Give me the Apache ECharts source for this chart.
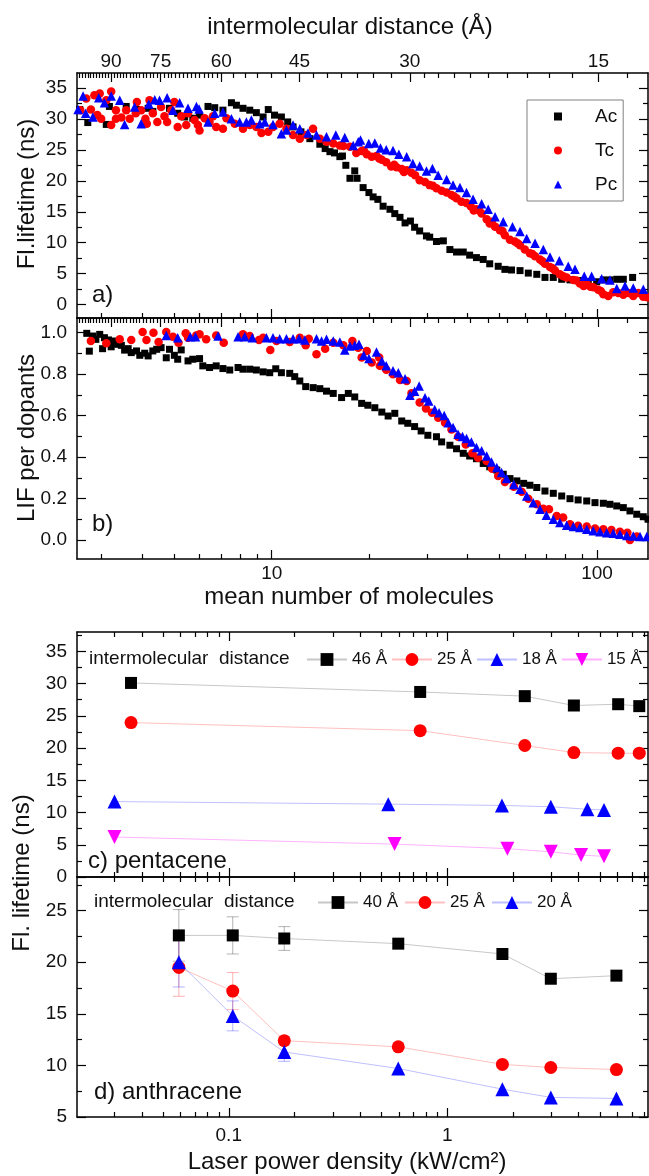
<!DOCTYPE html>
<html>
<head>
<meta charset="utf-8">
<title>Fluorescence lifetime / LIF vs cluster size and laser power</title>
<script src="https://cdn.jsdelivr.net/npm/echarts@6.0.0/dist/echarts.min.js"></script>
<style>
  html, body { margin: 0; padding: 0; background: #fff; }
  #main { width: 649px; height: 1176px; }
</style>
</head>
<body>
<div id="main"></div>
<script>
// ---- panel a) : Fl. lifetime (ns) vs mean number of molecules  [N, ns]
var acLifetime = [[2.57,31.5],[2.72,29.4],[3.10,29.1],[3.17,32.0],[3.57,32.0],[3.84,31.5],[4.17,31.7],[4.31,31.2],[4.85,31.7],[5.14,30.9],[5.40,30.3],[5.72,30.1],[6.00,30.6],[6.37,32.0],[6.68,31.8],[7.08,31.4],[7.52,32.6],[7.79,32.2],[8.16,31.7],[8.56,31.4],[8.97,31.0],[9.41,30.3],[9.76,31.5],[10.2,30.6],[10.71,30.3],[11.2,29.5],[11.63,28.7],[12.3,27.9],[13.1,26.8],[14.06,25.9],[14.6,25.2],[15.1,24.7],[15.6,24.5],[16.2,23.9],[16.5,24.0],[16.9,22.5],[17.4,20.4],[18.0,21.6],[18.3,20.4],[19.1,18.9],[19.9,18.1],[20.5,17.4],[21.2,17.0],[22.0,15.9],[23.1,15.4],[23.9,14.7],[24.8,14.1],[25.7,13.2],[26.7,13.5],[27.5,12.5],[28.5,11.9],[29.9,11.1],[30.6,10.9],[32.1,10.2],[33.7,10.3],[35.3,8.9],[37.0,8.5],[38.8,8.5],[40.6,8.0],[42.6,7.6],[44.7,7.3],[46.8,6.6],[49.7,6.2],[52.1,5.7],[54.6,5.6],[58.0,5.5],[61.5,5.1],[65.3,4.9],[69.2,4.4],[73.4,4.4],[77.9,4.1],[82.6,4.0],[88.6,3.9],[94.0,3.7],[99.8,3.7],[104.6,4.0],[109.6,4.0],[115.0,4.1],[120.5,4.1],[128.7,4.4]];
var tcLifetime = [[2.58,31.4],[2.69,33.3],[2.78,31.5],[2.85,33.8],[2.91,30.6],[2.96,34.1],[2.99,30.0],[3.10,33.0],[3.21,34.4],[3.21,29.0],[3.32,31.4],[3.32,30.0],[3.45,30.2],[3.57,31.4],[3.66,30.0],[3.82,30.9],[3.85,32.7],[3.97,31.4],[4.09,30.0],[4.13,29.2],[4.21,33.0],[4.31,30.9],[4.45,29.5],[4.57,31.9],[4.68,30.4],[4.77,29.5],[4.91,31.4],[5.02,32.7],[5.14,28.7],[5.27,30.4],[5.46,29.0],[5.53,30.9],[5.79,29.8],[5.93,29.0],[6.00,28.1],[6.22,30.1],[6.44,29.5],[6.60,30.4],[6.75,28.7],[7.08,28.4],[7.26,30.1],[7.70,29.2],[8.16,28.4],[8.56,29.0],[8.97,28.7],[9.30,27.7],[9.76,27.9],[10.09,28.7],[10.58,29.2],[11.1,28.4],[11.63,27.4],[12.2,26.8],[12.8,27.4],[13.4,28.4],[14.06,26.8],[14.74,26.3],[15.46,26.0],[16.2,25.7],[16.6,25.6],[17.4,25.5],[18.2,24.5],[18.9,24.8],[19.2,24.9],[19.6,24.3],[20.3,23.9],[21.0,24.0],[21.4,23.6],[21.8,23.4],[22.5,23.0],[23.3,22.3],[23.8,22.6],[24.2,22.2],[25.1,21.9],[25.5,21.4],[26.0,21.7],[26.9,21.3],[27.6,20.9],[28.5,20.1],[29.6,19.8],[30.6,19.3],[31.3,19.2],[32.1,18.8],[33.3,18.4],[34.5,18.1],[35.7,17.7],[36.3,17.5],[37.0,17.2],[38.3,16.6],[39.7,16.4],[40.9,15.9],[41.8,15.2],[42.6,15.4],[43.4,15.2],[44.2,14.7],[45.8,13.8],[46.8,13.1],[47.5,13.4],[48.6,12.6],[50.3,12.0],[51.2,11.9],[52.1,11.2],[54.0,10.5],[55.9,10.2],[57.0,9.9],[58.0,9.6],[60.0,8.9],[62.2,8.3],[63.3,8.2],[64.5,7.8],[66.8,7.3],[68.0,7.0],[69.2,6.6],[71.7,6.1],[73.0,5.9],[74.3,5.5],[76.9,4.9],[78.8,4.6],[80.7,4.4],[84.6,4.0],[86.5,3.9],[88.6,3.4],[91.0,3.0],[93.0,3.3],[95.5,2.9],[97.4,2.8],[100.9,2.4],[102.7,2.2],[104.6,1.7],[108.3,1.4],[112.2,2.0],[116.3,1.9],[120.5,1.6],[124.9,1.9],[129.3,1.4],[134.0,1.9],[138.8,1.3],[143.0,1.2]];
var pcLifetime = [[2.54,31.5],[2.63,33.7],[2.68,30.9],[2.82,30.3],[2.94,33.4],[3.06,32.6],[3.21,33.7],[3.41,33.0],[3.53,29.1],[3.79,31.9],[3.97,29.2],[4.19,32.4],[4.37,33.1],[4.52,33.0],[4.77,33.4],[4.97,31.4],[5.21,32.6],[5.53,31.7],[5.87,32.0],[5.98,31.6],[6.37,29.5],[6.68,30.9],[7.08,31.1],[7.52,30.0],[7.97,29.5],[8.36,29.5],[8.66,29.8],[9.19,29.2],[9.52,29.5],[10.09,29.1],[10.71,27.6],[11.1,28.2],[11.63,29.0],[12.2,28.4],[12.93,27.7],[13.73,27.4],[14.74,27.1],[15.74,27.4],[16.77,27.0],[17.8,25.7],[18.45,26.3],[18.75,26.6],[19.88,26.0],[20.75,26.1],[21.6,25.3],[22.5,25.0],[23.6,24.9],[24.6,24.3],[26.0,23.9],[27.15,22.8],[28.5,22.4],[29.9,21.6],[31.2,22.0],[32.5,20.9],[34.5,20.2],[36.1,19.3],[37.9,18.9],[39.7,18.1],[41.6,17.0],[44.2,16.3],[46.3,15.4],[48.6,14.2],[51.5,13.4],[55.0,12.6],[58.0,11.8],[60.8,10.7],[64.5,9.9],[68.4,8.9],[71.7,7.7],[76.6,7.1],[81.6,6.2],[85.6,5.7],[91.4,4.6],[96.3,4.6],[103.4,4.2],[109.6,4.0],[115.0,2.6],[122.0,3.0],[129.3,2.7],[138.8,2.5]];

// ---- panel b) : LIF per dopant vs mean number of molecules  [N, LIF]
var acLif = [[2.70,0.997],[2.75,0.911],[2.82,0.984],[2.88,0.968],[2.96,0.992],[3.02,0.923],[3.06,0.976],[3.15,0.965],[3.21,0.932],[3.28,0.960],[3.36,0.944],[3.45,0.939],[3.53,0.916],[3.62,0.923],[3.70,0.904],[3.84,0.912],[3.93,0.891],[4.07,0.901],[4.17,0.888],[4.31,0.912],[4.43,0.920],[4.57,0.928],[4.74,0.879],[4.85,0.920],[5.02,0.891],[5.14,0.872],[5.27,0.917],[5.53,0.864],[5.72,0.872],[6.00,0.875],[6.14,0.840],[6.44,0.832],[6.75,0.840],[7.08,0.827],[7.43,0.820],[7.88,0.832],[8.16,0.824],[8.56,0.824],[8.97,0.820],[9.41,0.811],[9.86,0.807],[10.29,0.826],[10.71,0.807],[11.36,0.804],[11.77,0.788],[12.2,0.767],[12.72,0.740],[13.41,0.735],[14.06,0.730],[14.74,0.718],[15.46,0.707],[16.4,0.687],[17.2,0.707],[18.0,0.690],[18.9,0.659],[19.75,0.650],[20.75,0.638],[21.8,0.617],[22.8,0.598],[23.9,0.611],[25.1,0.574],[26.2,0.563],[27.5,0.547],[28.8,0.526],[30.2,0.505],[32.1,0.498],[33.3,0.473],[35.3,0.457],[37.0,0.440],[38.8,0.418],[40.6,0.405],[42.6,0.392],[44.7,0.369],[46.8,0.353],[49.2,0.337],[51.5,0.317],[54.0,0.296],[56.7,0.285],[59.5,0.273],[62.2,0.264],[65.3,0.253],[69.2,0.236],[73.4,0.225],[77.9,0.212],[82.6,0.199],[87.5,0.193],[93.0,0.188],[98.6,0.180],[104.6,0.177],[109.6,0.172],[115.0,0.164],[120.5,0.156],[126.3,0.140],[132.5,0.124],[138.8,0.112],[143.5,0.100]];
var tcLif = [[2.78,0.960],[3.10,0.949],[3.41,0.968],[3.70,0.965],[4.01,1.003],[4.12,0.965],[4.33,1.000],[4.49,0.955],[4.74,1.003],[4.97,0.981],[5.17,0.952],[5.44,0.997],[5.53,0.976],[5.86,0.987],[6.00,0.992],[6.29,0.968],[6.75,0.987],[7.12,0.952],[8.16,0.992],[8.56,0.984],[9.14,0.965],[9.41,0.976],[9.90,0.916],[10.34,0.960],[11.36,0.955],[12.2,0.976],[12.72,0.939],[13.0,0.971],[13.73,0.896],[14.6,0.923],[15.46,0.952],[16.6,0.939],[17.7,0.960],[18.45,0.928],[18.9,0.880],[19.6,0.912],[20.3,0.856],[21.4,0.880],[21.5,0.840],[22.5,0.821],[23.6,0.800],[24.8,0.772],[26.0,0.767],[26.9,0.708],[28.5,0.663],[29.8,0.634],[31.1,0.614],[32.5,0.590],[34.1,0.566],[35.7,0.533],[37.4,0.498],[39.5,0.461],[41.4,0.418],[43.1,0.397],[45.8,0.381],[47.6,0.344],[49.7,0.309],[52.1,0.280],[55.5,0.257],[58.7,0.232],[61.5,0.199],[65.3,0.172],[68.4,0.151],[71.2,0.148],[75.2,0.116],[78.7,0.108],[82.6,0.076],[87.5,0.068],[93.0,0.065],[98.6,0.055],[104.6,0.052],[110.8,0.048],[117.6,0.039],[124.0,0.035],[126.3,0.0],[132.5,0.016]];
var pcLif = [[4.74,0.987],[5.14,0.976],[5.62,0.981],[5.83,0.981],[6.84,0.984],[7.88,0.981],[8.26,0.981],[8.72,0.976],[9.63,0.976],[10.09,0.976],[10.58,0.971],[11.1,0.971],[11.63,0.971],[12.14,0.971],[12.64,0.965],[13.73,0.971],[14.23,0.960],[14.74,0.968],[15.46,0.960],[16.2,0.955],[16.77,0.916],[17.4,0.936],[18.0,0.939],[18.55,0.944],[19.19,0.891],[19.9,0.875],[21.0,0.907],[21.8,0.864],[22.5,0.840],[23.6,0.816],[24.5,0.807],[25.7,0.778],[26.6,0.698],[27.5,0.718],[28.4,0.743],[29.6,0.686],[30.4,0.670],[31.7,0.630],[32.7,0.614],[33.9,0.601],[34.9,0.566],[36.1,0.542],[37.4,0.510],[38.6,0.499],[39.7,0.489],[41.1,0.473],[42.6,0.446],[44.2,0.430],[45.8,0.405],[47.4,0.376],[49.2,0.349],[50.9,0.325],[52.7,0.296],[55.5,0.268],[58.0,0.244],[60.8,0.212],[63.7,0.180],[66.8,0.148],[69.9,0.119],[73.4,0.100],[76.9,0.084],[80.7,0.071],[84.6,0.065],[88.6,0.060],[93.0,0.052],[97.4,0.044],[102.1,0.039],[107.1,0.035],[112.2,0.032],[117.6,0.027],[123.5,0.022],[129.3,0.019],[135.6,0.016],[142.3,0.016]];

// ---- panel c) pentacene : Fl. lifetime vs laser power density (kW/cm2)
var pentPowerAB = [0.0357, 0.752, 2.265, 3.80, 6.06, 7.57];
var pent46 = [30.1, 28.7, 28.05, 26.6, 26.8, 26.5];
var pent25 = [23.95, 22.7, 20.4, 19.3, 19.2, 19.2];
var pentPower18 = [0.0300, 0.537, 1.78, 2.98, 4.38, 5.22];
var pent18 = [11.7, 11.3, 11.1, 10.9, 10.5, 10.4];
var pentPower15 = [0.0300, 0.574, 1.885, 2.98, 4.10, 5.22];
var pent15 = [6.2, 5.1, 4.4, 3.9, 3.4, 3.2];

// ---- panel d) anthracene
var anthPower = [0.0591, 0.1043, 0.1795, 0.597, 1.789, 2.98, 5.95];
var anth40 = [22.6, 22.6, 22.3, 21.8, 20.8, 18.4, 18.7];
var anth25 = [19.5, 17.2, 12.4, 11.8, 10.1, 9.8, 9.6];
var anth20 = [20.0, 14.8, 11.3, 9.7, 7.7, 6.9, 6.8];
var anthErr40 = [2.5, 1.8, 1.15, 0, 0, 0, 0];
var anthErr25 = [2.8, 1.8, 0.4, 0, 0, 0, 0];
var anthErr20 = [2.4, 1.45, 0.9, 0, 0, 0, 0];

// ---- tick positions / labels
var nMajor = [10, 100];
var nMinor = [3, 4, 5, 6, 7, 8, 9, 20, 30, 40, 50, 60, 70, 80, 90];
var distLabels = [15, 30, 45, 60, 75, 90];
var distMinor = [13.5, 16.5, 18, 19.5, 21, 22.5, 24, 25.5, 27, 28.5,
  32.14, 34.29, 36.43, 38.57, 40.71, 42.86, 47.5, 50, 52.5, 55, 57.5];
for (var dd = 61; dd <= 101; dd++) { if (dd !== 75 && dd !== 90) distMinor.push(dd); }
var powerMajor = [0.1, 1];
var powerMinor = [0.03, 0.04, 0.05, 0.06, 0.07, 0.08, 0.09, 0.2, 0.3, 0.4, 0.5, 0.6, 0.7, 0.8, 0.9, 2, 3, 4, 5, 6, 7, 8];
var lifeMajor = [0, 5, 10, 15, 20, 25, 30, 35];
var lifeMinor = [2.5, 7.5, 12.5, 17.5, 22.5, 27.5, 32.5, 37.5];
var lifMajor = [0, 0.2, 0.4, 0.6, 0.8, 1.0];
var lifMinor = [0.1, 0.3, 0.5, 0.7, 0.9];
var anthMajor = [5, 10, 15, 20, 25];
var anthMinor = [7.5, 12.5, 17.5, 22.5, 27.5];

var FONT = '"Liberation Sans", Arial, sans-serif';
var chart = echarts.init(document.getElementById('main'));

var xAxes = [], yAxes = [];
// one framed side = axis with long ticks (+ line, + labels) and a twin with short ticks
function side(list, base, major, minor, labels, margin, fmt) {
  var main = Object.assign({}, base, {
    axisLine: { show: true, onZero: false, lineStyle: { color: '#000', width: 1.5 } },
    axisTick: { show: true, inside: true, length: 9, customValues: major, lineStyle: { color: '#000', width: 1.2 } },
    axisLabel: { show: false },
    splitLine: { show: false }
  });
  if (labels) {
    main.axisLabel = { show: true, customValues: labels, margin: margin, color: '#111', fontSize: 19, fontFamily: FONT };
    if (fmt) main.axisLabel.formatter = fmt;
  }
  var twin = Object.assign({}, base, {
    axisLine: { show: false, onZero: false },
    axisTick: { show: true, inside: true, length: 5, customValues: minor, lineStyle: { color: '#000', width: 1.2 } },
    axisLabel: { show: false },
    splitLine: { show: false }
  });
  list.push(main, twin);
  return list.length - 2;
}

var nAxis = { type: 'log', min: 2.52, max: 143.5 };
var dAxis = { type: 'log', min: 12.5, max: 102, inverse: true };
var pAxis = { type: 'log', min: 0.0202, max: 8.3 };
function g(i, pos, extra) { return Object.assign({ gridIndex: i, position: pos }, extra); }
function fmtNum(v) { return String(+v.toFixed(2)); }

// a)
var xa = side(xAxes, g(0, 'bottom', nAxis), nMajor, nMinor);
side(xAxes, g(0, 'top', dAxis), distLabels, distMinor, distLabels, 2, fmtNum);
var ya = side(yAxes, g(0, 'left', { type: 'value', min: -2.15, max: 37.4 }), lifeMajor, lifeMinor, lifeMajor, 10);
side(yAxes, g(0, 'right', { type: 'value', min: -2.15, max: 37.4 }), lifeMajor, lifeMinor);
// b)
var xb = side(xAxes, g(1, 'bottom', nAxis), nMajor, nMinor, nMajor, 5, fmtNum);
side(xAxes, g(1, 'top', dAxis), distLabels, distMinor);
var yb = side(yAxes, g(1, 'left', { type: 'value', min: -0.092, max: 1.071 }), lifMajor, lifMinor, lifMajor, 10,
  function (v) { return v.toFixed(1); });
side(yAxes, g(1, 'right', { type: 'value', min: -0.092, max: 1.071 }), lifMajor, lifMinor);
// c)
var xc = side(xAxes, g(2, 'bottom', pAxis), powerMajor, powerMinor);
side(xAxes, g(2, 'top', pAxis), powerMajor, powerMinor);
var yc = side(yAxes, g(2, 'left', { type: 'value', min: 0, max: 38 }), lifeMajor, lifeMinor, lifeMajor, 10);
side(yAxes, g(2, 'right', { type: 'value', min: 0, max: 38 }), lifeMajor, lifeMinor);
// d)
var xd = side(xAxes, g(3, 'bottom', pAxis), powerMajor, powerMinor, powerMajor, 9, fmtNum);
side(xAxes, g(3, 'top', pAxis), powerMajor, powerMinor);
var yd = side(yAxes, g(3, 'left', { type: 'value', min: 5, max: 28.26 }), anthMajor, anthMinor, anthMajor, 10);
side(yAxes, g(3, 'right', { type: 'value', min: 5, max: 28.26 }), anthMajor, anthMinor);

function dots(name, data, xi, yi, symbol, size, color) {
  return { name: name, type: 'scatter', xAxisIndex: xi, yAxisIndex: yi, data: data,
    symbol: symbol, symbolSize: size, itemStyle: { color: color, opacity: 1 }, silent: true };
}
function trend(name, xs, ys, xi, yi, symbol, size, color, line, rotate) {
  return { name: name, type: 'line', xAxisIndex: xi, yAxisIndex: yi,
    data: xs.map(function (x, i) { return [x, ys[i]]; }),
    symbol: symbol, symbolSize: size, symbolRotate: rotate || 0, showSymbol: true, z: 3,
    itemStyle: { color: color, opacity: 1 }, lineStyle: { color: line, width: 1 } };
}
function errorBars(xs, ys, errs, xi, yi, color) {
  var data = [];
  xs.forEach(function (x, i) { if (errs[i]) data.push([x, ys[i] - errs[i], ys[i] + errs[i]]); });
  return { type: 'custom', xAxisIndex: xi, yAxisIndex: yi, data: data, z: 2, silent: true,
    encode: { x: 0, y: [1, 2] },
    renderItem: function (params, api) {
      var lo = api.coord([api.value(0), api.value(1)]);
      var hi = api.coord([api.value(0), api.value(2)]);
      var w = 6, st = { stroke: color, lineWidth: 1 };
      return { type: 'group', children: [
        { type: 'line', shape: { x1: lo[0], y1: lo[1], x2: hi[0], y2: hi[1] }, style: st },
        { type: 'line', shape: { x1: lo[0] - w, y1: lo[1], x2: lo[0] + w, y2: lo[1] }, style: st },
        { type: 'line', shape: { x1: hi[0] - w, y1: hi[1], x2: hi[0] + w, y2: hi[1] }, style: st }
      ] };
    } };
}

function txt(text, x, y, size, align, rot) {
  return { type: 'text', x: x, y: y, rotation: rot || 0, silent: true,
    style: { text: text, fontSize: size, fontFamily: FONT, fill: '#111', align: align || 'center', verticalAlign: 'middle' } };
}

var legendText = { fontSize: 17, fontFamily: FONT, color: '#111' };

chart.setOption({
  animation: false,
  backgroundColor: '#fff',
  grid: [
    { left: 77, width: 571, top: 73, height: 245, outerBoundsMode: 'none' },
    { left: 77, width: 571, top: 318, height: 241, outerBoundsMode: 'none' },
    { left: 77, width: 571, top: 632, height: 245, outerBoundsMode: 'none' },
    { left: 77, width: 571, top: 877, height: 240, outerBoundsMode: 'none' }
  ],
  xAxis: xAxes,
  yAxis: yAxes,
  legend: [
    { data: ['Ac', 'Tc', 'Pc'], orient: 'vertical', left: 527, top: 100, selectedMode: false,
      itemWidth: 8, itemHeight: 8, itemGap: 15, padding: [7, 6, 7, 27],
      borderColor: '#808080', borderWidth: 1, borderRadius: 0, backgroundColor: '#fff',
      textStyle: { fontSize: 19, fontFamily: FONT, color: '#111', padding: [0, 0, 0, 28] } },
    { data: ['46 Å', '25 Å', '18 Å', '15 Å'], left: 306, top: 651, width: 343, selectedMode: false,
      itemWidth: 40, itemHeight: 16, itemGap: 4, padding: 0, textStyle: legendText },
    { data: ['40 Å', '25 Å', '20 Å'], left: 317, top: 894, width: 330, selectedMode: false,
      itemWidth: 40, itemHeight: 16, itemGap: 6, padding: 0, textStyle: legendText }
  ],
  series: [
    dots('Ac', acLifetime, xa, ya, 'rect', 7, '#000'),
    dots('Tc', tcLifetime, xa, ya, 'circle', 8.5, '#ff0000'),
    dots('Pc', pcLifetime, xa, ya, 'triangle', 9.5, '#0000ff'),
    dots('Ac', acLif, xb, yb, 'rect', 7, '#000'),
    dots('Tc', tcLif, xb, yb, 'circle', 8.5, '#ff0000'),
    dots('Pc', pcLif, xb, yb, 'triangle', 9.5, '#0000ff'),
    trend('46 Å', pentPowerAB, pent46, xc, yc, 'rect', 12, '#000', 'rgba(0,0,0,0.22)'),
    trend('25 Å', pentPowerAB, pent25, xc, yc, 'circle', 13, '#ff0000', 'rgba(255,0,0,0.25)'),
    trend('18 Å', pentPower18, pent18, xc, yc, 'triangle', 14, '#0000ff', 'rgba(0,0,255,0.25)'),
    trend('15 Å', pentPower15, pent15, xc, yc, 'triangle', 14, '#ff00ff', 'rgba(255,0,255,0.3)', 180),
    errorBars(anthPower, anth40, anthErr40, xd, yd, 'rgba(0,0,0,0.3)'),
    errorBars(anthPower, anth25, anthErr25, xd, yd, 'rgba(255,0,0,0.3)'),
    errorBars(anthPower, anth20, anthErr20, xd, yd, 'rgba(0,0,255,0.3)'),
    trend('40 Å', anthPower, anth40, xd, yd, 'rect', 12, '#000', 'rgba(0,0,0,0.22)'),
    trend('25 Å', anthPower, anth25, xd, yd, 'circle', 13, '#ff0000', 'rgba(255,0,0,0.25)'),
    trend('20 Å', anthPower, anth20, xd, yd, 'triangle', 14, '#0000ff', 'rgba(0,0,255,0.25)')
  ],
  graphic: [
    txt('intermolecular distance (Å)', 350, 27, 24),
    txt('mean number of molecules', 349, 597, 24),
    txt('Laser power density (kW/cm²)', 347, 1162, 24),
    txt('Fl.lifetime (ns)', 27, 194, 24, 'center', Math.PI / 2),
    txt('LIF per dopants', 27, 438, 24, 'center', Math.PI / 2),
    txt('Fl. lifetime (ns)', 22, 873, 24, 'center', Math.PI / 2),
    txt('a)', 92, 295, 24, 'left'),
    txt('b)', 92, 524, 24, 'left'),
    txt('c) pentacene', 88, 861, 24, 'left'),
    txt('d) anthracene', 94, 1092, 24, 'left'),
    txt('intermolecular  distance', 89, 659, 19, 'left'),
    txt('intermolecular  distance', 94, 902, 19, 'left')
  ]
});
</script>
</body>
</html>
